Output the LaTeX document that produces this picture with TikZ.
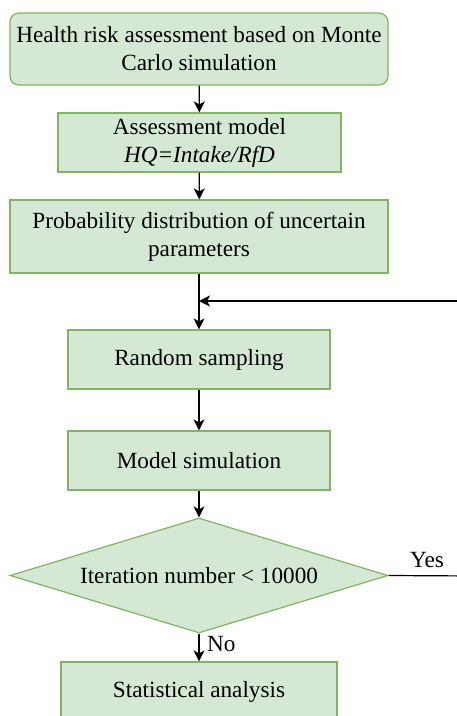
\documentclass[tikz,border=0pt]{standalone}
\usepackage{fontspec}
\setmainfont{Liberation Serif}
\usetikzlibrary{arrows.meta,shapes.geometric}
\definecolor{boxfill}{HTML}{D5E8D4}
\definecolor{boxline}{HTML}{82B366}
\tikzset{
  flowbox/.style={draw=boxline, fill=boxfill, line width=1.2pt, inner sep=0pt, align=center,
    font=\fontsize{23.2}{28}\selectfont},
  flowarrow/.style={draw=black, line width=1.2pt, -{Stealth[length=11pt,width=11pt,inset=3pt]}},
  flowline/.style={draw=black, line width=1.2pt},
  lbl/.style={font=\fontsize{23.2}{28}\selectfont, inner sep=0pt}
}
\begin{document}
\begin{tikzpicture}[x=1pt,y=-1pt]
\useasboundingbox (0,0) rectangle (457,716);
\clip (0,0) rectangle (457,716);
\node[flowbox, rounded corners=9pt, minimum width=378pt, minimum height=72pt] (b1) at (199,49)
  {Health risk assessment based on Monte\\Carlo simulation};
\node[flowbox, minimum width=283pt, minimum height=59pt] (b2) at (199.5,142.5)
  {Assessment model\\\textit{HQ=Intake/RfD}};
\node[flowbox, minimum width=378pt, minimum height=73pt] (b3) at (199,236.5)
  {Probability distribution of uncertain\\parameters};
\node[flowbox, minimum width=262pt, minimum height=59pt] (b4) at (199,359.5) {Random sampling};
\node[flowbox, minimum width=262pt, minimum height=59pt] (b5) at (199,460.5) {Model simulation};
\node[flowbox, diamond, aspect=3.29, minimum width=378pt, minimum height=115pt] (d) at (199,575.5)
  {Iteration number < 10000};
\node[flowbox, minimum width=276pt, minimum height=59pt] (b6) at (199,691.5) {Statistical analysis};

\coordinate (j) at (199,301);
\coordinate (r1) at (475,576);
\coordinate (r2) at (475,301);

\draw[flowarrow] (b1) -- (b2);
\draw[flowarrow] (b2) -- (b3);
\draw[flowarrow] (b3) -- (b4);
\draw[flowarrow] (b4) -- (b5);
\draw[flowarrow] (b5) -- (d);
\draw[flowarrow] (d) -- (b6);
\draw[flowline] (d.east) -- (r1) -- (r2);
\draw[flowarrow] (r2) -- (j);

\node[lbl, anchor=south] (yes) at (427,568) {Yes};
\node[lbl, anchor=west] (no) at (207,644) {No};
\end{tikzpicture}
\end{document}
